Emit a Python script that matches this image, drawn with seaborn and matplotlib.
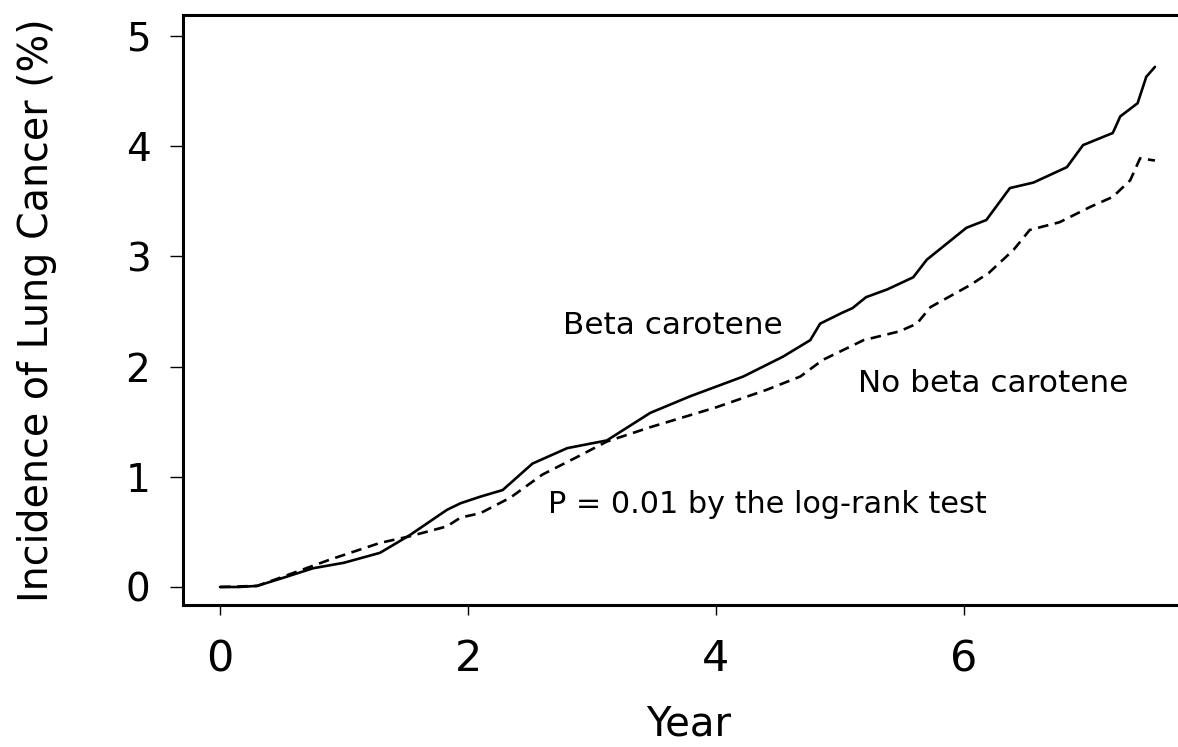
import matplotlib
matplotlib.use("Agg")
import matplotlib.pyplot as plt
import seaborn as sns
import pandas as pd

# ---- data ----
beta_years = [0, 0.15, 0.3, 0.5, 0.75, 1.0, 1.29, 1.53, 1.83, 1.94, 2.1, 2.28, 2.4, 2.52,
              2.74, 2.8, 3.12, 3.47, 3.79, 4.22, 4.54, 4.76, 4.84, 5.02, 5.1, 5.21, 5.38,
              5.59, 5.70, 6.02, 6.18, 6.37, 6.56, 6.83, 6.96, 7.20, 7.26, 7.40, 7.47, 7.54]
beta_incidence = [0, 0, 0.01, 0.08, 0.17, 0.22, 0.31, 0.47, 0.70, 0.76, 0.82, 0.88, 1.0, 1.12,
                  1.23, 1.26, 1.33, 1.58, 1.73, 1.91, 2.09, 2.24, 2.39, 2.49, 2.53, 2.63, 2.70,
                  2.81, 2.97, 3.26, 3.33, 3.62, 3.67, 3.81, 4.01, 4.12, 4.27, 4.39, 4.63, 4.72]

nobeta_years = [0, 0.3, 0.5, 0.89, 1.29, 1.53, 1.83, 1.94, 2.1, 2.34, 2.6, 2.88, 3.12, 3.47,
                4.0, 4.41, 4.68, 4.86, 5.19, 5.48, 5.62, 5.73, 5.89, 6.05, 6.2, 6.40, 6.53,
                6.77, 7.02, 7.20, 7.34, 7.42, 7.54]
nobeta_incidence = [0, 0.01, 0.09, 0.25, 0.40, 0.46, 0.55, 0.63, 0.67, 0.81, 1.02, 1.18, 1.32, 1.45,
                    1.63, 1.79, 1.91, 2.06, 2.24, 2.32, 2.39, 2.54, 2.64, 2.74, 2.85, 3.06, 3.24,
                    3.31, 3.45, 3.54, 3.69, 3.89, 3.87]

x_ticks = [0, 2, 4, 6]
y_ticks = [0, 1, 2, 3, 4, 5]

df = pd.concat([
    pd.DataFrame({"Year": beta_years, "Incidence": beta_incidence, "Group": "Beta carotene"}),
    pd.DataFrame({"Year": nobeta_years, "Incidence": nobeta_incidence, "Group": "No beta carotene"}),
])

sns.set_style("ticks")
plt.rcParams["font.family"] = ["DejaVu Sans"]

W, H = 1178, 747
fig = plt.figure(figsize=(W / 100, H / 100), dpi=100)
ax_left, ax_right, ax_top, ax_bottom = 183, 1190, 15, 605
ax = fig.add_axes([ax_left / W, 1 - ax_bottom / H, (ax_right - ax_left) / W, (ax_bottom - ax_top) / H])

sns.lineplot(data=df, x="Year", y="Incidence", style="Group", color="black",
             dashes={"Beta carotene": "", "No beta carotene": (4, 2.5)},
             linewidth=1.9, legend=False, ax=ax, estimator=None, sort=True)

px_per_x = 124.0
px_per_y = 110.2
ax.set_xlim((ax_left - 220) / px_per_x, (ax_right - 220) / px_per_x)
ax.set_ylim(-(ax_bottom - 587) / px_per_y, (587 - ax_top) / px_per_y)
ax.set_xticks(x_ticks)
ax.set_yticks(y_ticks)
ax.set_xticklabels([str(t) for t in x_ticks])
ax.set_yticklabels([str(t) for t in y_ticks])

for s in ax.spines.values():
    s.set_linewidth(2.2)
    s.set_color("black")
ax.spines["right"].set_visible(False)

ax.tick_params(axis="both", direction="out", width=1.0, colors="black")
ax.tick_params(axis="y", length=9.5, pad=14, labelsize=28)
ax.tick_params(axis="x", length=7, pad=17, labelsize=31)

ax.set_xlabel("Year", fontsize=29, color="black")
ax.set_ylabel("Incidence of Lung Cancer (%)", fontsize=28.5, color="black")
ax.xaxis.label.set_va("center")
ax.xaxis.set_label_coords((689 - ax_left) / (ax_right - ax_left), -(724 - ax_bottom) / (ax_bottom - ax_top))
ax.yaxis.set_label_coords(-(ax_left - 57) / (ax_right - ax_left), 0.5)

ax.text(2.766, 2.30, "Beta carotene", fontsize=22.4, ha="left", va="baseline", color="black")
ax.text(5.145, 1.77, "No beta carotene", fontsize=22.4, ha="left", va="baseline", color="black")
ax.text(2.645, 0.67, "P = 0.01 by the log-rank test", fontsize=21.8, ha="left", va="baseline", color="black")

fig.savefig("out.png", dpi=100)
